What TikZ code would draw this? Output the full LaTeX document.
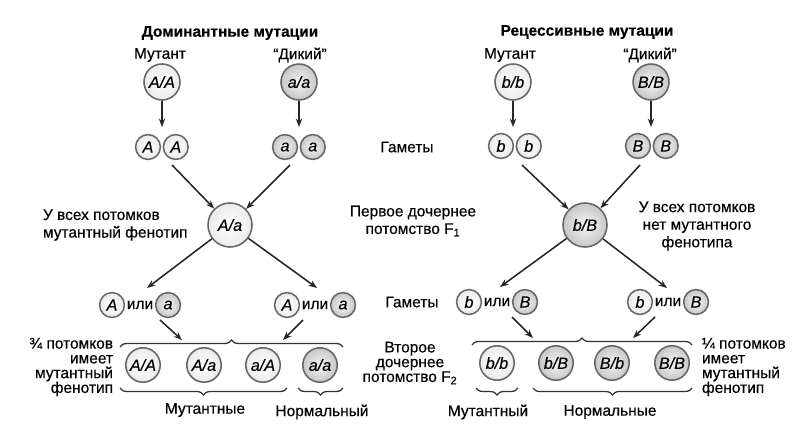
\documentclass[tikz,border=0pt]{standalone}
\usepackage{fontspec}
\setmainfont{Liberation Sans}[FakeBold=0.4]
\usetikzlibrary{arrows.meta,positioning,decorations.pathreplacing}
\tikzset{
  lt/.style={circle, draw=black!60, line width=1.1pt, inner color=white, outer color=black!8},
  dk/.style={circle, draw=black!60, line width=1.1pt, inner color=black!4, outer color=black!22},
  par/.style={minimum size=0.9cm, inner sep=0pt, font=\fontsize{11.5}{12.5}\selectfont\itshape},
  f1/.style={minimum size=1.1cm, inner sep=0pt, font=\fontsize{11.5}{12.5}\selectfont\itshape},
  f2/.style={minimum size=0.86cm, inner sep=0pt, font=\fontsize{11.5}{12.5}\selectfont\itshape},
  gam/.style={minimum size=0.62cm, inner sep=0pt, font=\fontsize{11.5}{12.5}\selectfont\itshape},
  orw/.style={inner sep=1pt},
  tight/.style={font=\fontsize{11}{10.5}\selectfont},
  arr/.style={-{Stealth[length=6pt,width=4.5pt]}, line width=1.1pt, black!85},
  brc/.style={decorate, decoration={brace, amplitude=5pt}, line width=0.9pt, black!80}
}
\begin{document}
\begin{tikzpicture}[x=0.025cm, y=-0.025cm, every node/.style={font=\fontsize{11}{12.5}\selectfont}]
\useasboundingbox (0,0) rectangle (802,439);
\node (domt) at (230,33) {\bfseries Доминантные мутации};
\node (rect) at (587,32) {\bfseries Рецессивные мутации};
\node (mut1) at (160,55) {Мутант};
\node (wild1) at (300,55) {“Дикий”};
\node (mut2) at (510,55) {Мутант};
\node (wild2) at (650,55) {“Дикий”};
\node[par, lt] (AA) at (162,82) {A/A};
\node[par, dk] (aa) at (299,82) {a/a};
\node[par, lt] (bb) at (513,82) {b/b};
\node[par, dk] (BB) at (651,82) {B/B};
\coordinate (dA) at (162,127);
\coordinate (da) at (299,127);
\coordinate (db) at (513,127);
\coordinate (dB) at (651,127);
\draw[arr] (AA) -- (dA);
\draw[arr] (aa) -- (da);
\draw[arr] (bb) -- (db);
\draw[arr] (BB) -- (dB);
\node[gam, lt] (gA1) at (148,147) {A};
\node[gam, lt, right=1pt of gA1] (gA2) {A};
\node[gam, dk] (ga1) at (285,147) {a};
\node[gam, dk, right=1pt of ga1] (ga2) {a};
\node[gam, lt] (gb1) at (501,146) {b};
\node[gam, lt, right=1pt of gb1] (gb2) {b};
\node[gam, dk] (gB1) at (638,146) {B};
\node[gam, dk, right=1pt of gB1] (gB2) {B};
\node (gam1) at (407,147) {Гаметы};
\node[f1, lt] (Aa) at (230,225) {A/a};
\node[f1, dk] (bB) at (585,225) {b/B};
\coordinate (sA) at (172,165);
\coordinate (sa) at (290,165);
\coordinate (sb) at (522,165);
\coordinate (sB) at (640,165);
\draw[arr] (sA) -- (Aa);
\draw[arr] (sa) -- (Aa);
\draw[arr] (sb) -- (bB);
\draw[arr] (sB) -- (bB);
\node[anchor=west, align=left] (allmut) at (38,225) {У всех потомков\\мутантный фенотип};
\node[align=center] (gen1) at (413,221) {Первое дочернее\\потомство F\textsubscript{1}};
\node[align=center] (nomut) at (697,226) {У всех потомков\\нет мутантного\\фенотипа};
\coordinate (eA) at (147,288);
\coordinate (ea) at (317,288);
\coordinate (eb) at (500,287);
\coordinate (eB) at (667,288);
\draw[arr] (Aa) -- (eA);
\draw[arr] (Aa) -- (ea);
\draw[arr] (bB) -- (eb);
\draw[arr] (bB) -- (eB);
\node[gam, lt] (gA3) at (112,305) {A};
\node[orw, right=0pt of gA3] (or1) {или};
\node[gam, dk, right=0pt of or1] (ga3) {a};
\node[gam, lt] (gA4) at (287,305) {A};
\node[orw, right=0pt of gA4] (or2) {или};
\node[gam, dk, right=0pt of or2] (ga4) {a};
\node[gam, lt] (gb3) at (469,302) {b};
\node[orw, right=0pt of gb3] (or3) {или};
\node[gam, dk, right=0pt of or3] (gB3) {B};
\node[gam, lt] (gb4) at (640,302) {b};
\node[orw, right=0pt of gb4] (or4) {или};
\node[gam, dk, right=0pt of or4] (gB4) {B};
\node (gam2) at (412,302) {Гаметы};
\coordinate (tA) at (160,320);
\coordinate (ta) at (303,320);
\coordinate (tb) at (512,317);
\coordinate (tB) at (655,317);
\coordinate (uA) at (182,340);
\coordinate (ua) at (283,340);
\coordinate (ub) at (533,338);
\coordinate (uB) at (633,338);
\draw[arr] (tA) -- (uA);
\draw[arr] (ta) -- (ua);
\draw[arr] (tb) -- (ub);
\draw[arr] (tB) -- (uB);
\draw[brc] (120,347) -- (343,347);
\draw[brc] (472,345) -- (692,345);
\node[f2, lt] (AA2) at (143,365) {A/A};
\node[f2, lt] (Aa2) at (204,365) {A/a};
\node[f2, lt] (aA2) at (263,365) {a/A};
\node[f2, dk] (aa2) at (320,365) {a/a};
\node[f2, lt] (bb2) at (497,363) {b/b};
\node[f2, dk] (bB2) at (556,363) {b/B};
\node[f2, dk] (Bb2) at (612,363) {B/b};
\node[f2, dk] (BB2) at (672,363) {B/B};
\draw[brc] (287,388) -- (120,388);
\draw[brc] (343,388) -- (298,388);
\draw[brc] (518,388) -- (476,388);
\draw[brc] (692,388) -- (533,388);
\node[tight, anchor=east, align=right] (q3) at (118,367) {¾ потомков\\имеет\\мутантный\\фенотип};
\node[tight, anchor=west, align=left] (q1) at (697,367) {¼ потомков\\имеет\\мутантный\\фенотип};
\node[tight, align=center] (gen2) at (410,363) {Второе\\дочернее\\потомство F\textsubscript{2}};
\node (mutn) at (205,410) {Мутантные};
\node (norm) at (322,412) {Нормальный};
\node (mutn2) at (488,412) {Мутантный};
\node (norm2) at (610,412) {Нормальные};
\end{tikzpicture}
\end{document}
